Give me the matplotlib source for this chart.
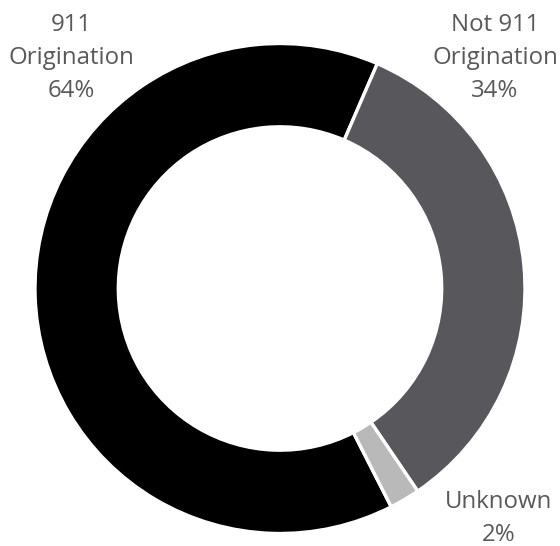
import matplotlib.pyplot as plt

# data
labels = ["911\nOrigination", "Not 911\nOrigination", "Unknown"]
shares = [64, 34, 2]
colors = ["#000000", "#58575c", "#b9b9b9"]

plt.rcParams['font.family'] = ['Open Sans', 'DejaVu Sans']

fig = plt.figure(figsize=(5.6, 5.46), dpi=100)
ax = fig.add_axes([0, 0, 1, 1])

R = 245.0
cx, cy = 280.0, 288.5
ax.pie(shares, colors=colors, radius=1, startangle=-63, counterclock=False,
       wedgeprops=dict(width=0.34, edgecolor="white", linewidth=2.4))
ax.set_xlim(-cx / R, (560 - cx) / R)
ax.set_ylim(-(546 - cy) / R, cy / R)
ax.set_aspect('equal')
ax.axis('off')

# label positions (pixels from top-left)
label_pos = [(71, 13), (495, 13), (499, 490)]
for lab, val, (px, py) in zip(labels, shares, label_pos):
    fig.text(px / 560, 1 - py / 546, f"{lab}\n{val}%", ha='center', va='top',
             fontsize=17.3, color="#595959", linespacing=1.5)

fig.savefig("out.png", dpi=100)
